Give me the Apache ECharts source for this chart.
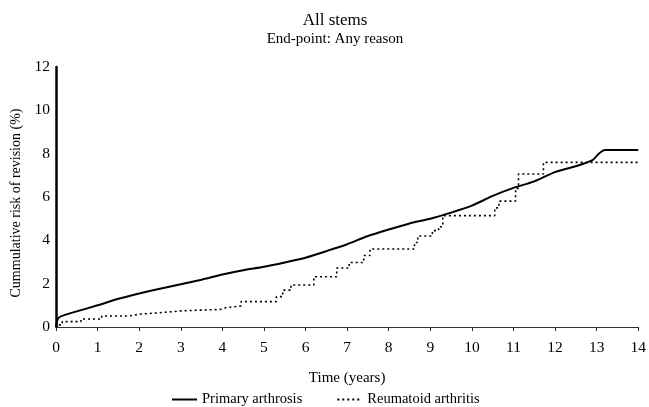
<!DOCTYPE html>
<html>
<head>
	<meta charset="utf-8">
	<title>All stems</title>
	<script src="https://cdn.jsdelivr.net/npm/echarts@6/dist/echarts.min.js"></script>
	<style>
		html, body { margin: 0; padding: 0; background: #fff; }
		#chart { width: 649px; height: 407px; }
	</style>
</head>
<body>
<div id="chart"></div>
<script>
	// x / y tick labels
	var xTicks = [0, 1, 2, 3, 4, 5, 6, 7, 8, 9, 10, 11, 12, 13, 14];
	var yTicks = [0, 2, 4, 6, 8, 10, 12];
	var seriesNames = ['Primary arthrosis', 'Reumatoid arthritis'];

	// primary arthrosis: time (years)
	var primaryT = [0, 0.03, 0.08, 0.2, 0.5, 1.0, 1.5, 2.0, 2.5, 3.0, 3.5, 4.0, 4.5, 5.0, 5.5, 6.0, 6.5, 7.0, 7.5, 8.0, 8.5, 9.0, 9.5, 10.0, 10.5, 11.0, 11.5, 12.0, 12.5, 12.9, 13.05, 13.2, 14];
	// primary arthrosis: cumulative risk (%)
	var primaryV = [0, 0.3, 0.45, 0.55, 0.72, 1.0, 1.3, 1.55, 1.77, 1.97, 2.18, 2.42, 2.62, 2.78, 2.98, 3.2, 3.5, 3.82, 4.2, 4.5, 4.78, 5.0, 5.28, 5.6, 6.05, 6.42, 6.72, 7.15, 7.42, 7.7, 8.0, 8.17, 8.17];

	// reumatoid arthritis: step times and values
	var rheumT = [0, 0.05, 0.15, 0.6, 1.1, 1.75, 2.0, 2.5, 3.05, 3.95, 4.1, 4.45, 5.3, 5.45, 5.65, 6.2, 6.75, 7.05, 7.4, 7.55, 8.62, 8.7, 9.05, 9.2, 9.3, 10.55, 10.65, 11.05, 11.12, 11.72, 14];
	var rheumV = [0, 0.1, 0.25, 0.37, 0.51, 0.59, 0.66, 0.75, 0.81, 0.9, 0.97, 1.17, 1.4, 1.7, 1.94, 2.32, 2.72, 2.98, 3.3, 3.6, 3.9, 4.2, 4.45, 4.63, 5.14, 5.5, 5.81, 6.4, 7.06, 7.6, 7.6];

	function pairs(t, v) {
		var out = [];
		for (var i = 0; i < t.length; i++) out.push([t[i], v[i]]);
		return out;
	}

	var font = '"Liberation Serif", "DejaVu Serif", serif';
	var chart = echarts.init(document.getElementById('chart'), null, {renderer: 'canvas'});
	chart.setOption({
		animation: false,
		textStyle: {fontFamily: font, color: '#000'},
		title: {
			text: 'All stems',
			subtext: 'End-point: Any reason',
			left: 330,
			top: 7,
			textAlign: 'center',
			itemGap: 3,
			textStyle: {fontFamily: font, fontSize: 17, fontWeight: 'normal', color: '#000'},
			subtextStyle: {fontFamily: font, fontSize: 15, color: '#000'}
		},
		legend: {
			data: seriesNames,
			bottom: -5,
			left: 166,
			itemWidth: 25,
			itemHeight: 10,
			itemGap: 34,
			itemStyle: {opacity: 0},
			textStyle: {fontFamily: font, fontSize: 14.5, color: '#000'}
		},
		grid: {left: 56, right: 8, top: 67, bottom: 80, containLabel: false},
		xAxis: {
			type: 'value',
			min: 0,
			max: 14,
			interval: 1,
			name: 'Time (years)',
			nameLocation: 'middle',
			nameGap: 44,
			nameTextStyle: {fontFamily: font, fontSize: 15, color: '#000'},
			axisLine: {lineStyle: {color: '#333', width: 1}},
			axisTick: {show: true, length: 4, lineStyle: {color: '#333'}},
			axisLabel: {
				fontFamily: font, fontSize: 15.5, color: '#000', margin: 13,
				formatter: function (v) { return xTicks.indexOf(v) >= 0 ? String(v) : ''; }
			},
			splitLine: {show: false}
		},
		yAxis: {
			type: 'value',
			min: 0,
			max: 12,
			interval: 2,
			name: 'Cummulative risk of revision (%)',
			nameLocation: 'middle',
			nameGap: 32,
			nameTextStyle: {fontFamily: font, fontSize: 14, color: '#000', padding: [0, 0, 0, -12]},
			axisLine: {show: true, lineStyle: {color: '#000', width: 2.5}},
			axisTick: {show: false},
			axisLabel: {
				fontFamily: font, fontSize: 15.5, color: '#000', margin: 6,
				formatter: function (v) { return yTicks.indexOf(v) >= 0 ? String(v) : ''; }
			},
			splitLine: {show: false}
		},
		series: [
			{
				name: seriesNames[0],
				type: 'line',
				data: pairs(primaryT, primaryV),
				symbol: 'none',
				smooth: 0.2,
				lineStyle: {color: '#000', width: 2},
				itemStyle: {color: '#000'}
			},
			{
				name: seriesNames[1],
				type: 'line',
				data: pairs(rheumT, rheumV),
				symbol: 'none',
				step: 'end',
				lineStyle: {color: '#000', width: 1.6, type: [2, 3]},
				itemStyle: {color: '#000'}
			}
		]
	});
</script>
</body>
</html>
